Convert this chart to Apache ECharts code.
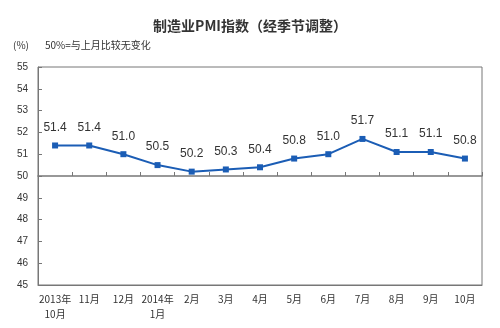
<!DOCTYPE html>
<html>
<head>
<meta charset="utf-8">
<script src="https://cdn.jsdelivr.net/npm/echarts@6/dist/echarts.min.js"></script>
<style>
  html, body { margin: 0; padding: 0; background: #fff; }
  #chart { width: 500px; height: 328px; }
</style>
</head>
<body>
<div id="chart"></div>
<script>
// Monthly manufacturing PMI, seasonally adjusted
const months = ['2013年\n10月', '11月', '12月', '2014年\n1月', '2月', '3月', '4月', '5月', '6月', '7月', '8月', '9月', '10月'];
const pmi = [51.4, 51.4, 51.0, 50.5, 50.2, 50.3, 50.4, 50.8, 51.0, 51.7, 51.1, 51.1, 50.8];
const yTicks = [45, 46, 47, 48, 49, 50, 51, 52, 53, 54, 55];

const chart = echarts.init(document.getElementById('chart'), null, { renderer: 'canvas' });
const textColor = '#333';
const lineGray = '#777';

chart.setOption({
  animation: false,
  backgroundColor: '#fff',
  title: {
    text: '制造业PMI指数（经季节调整）',
    left: 'center',
    top: 14,
    textStyle: { fontFamily: 'Noto Sans CJK SC', fontSize: 14, fontWeight: 'bold', color: '#333' }
  },
  graphic: [
    { type: 'text', left: 13, top: 40, style: { text: '(%)', font: '10px "Noto Sans CJK SC"', fill: textColor } },
    { type: 'text', left: 45, top: 40, style: { text: '50%=与上月比较无变化', font: '10px "Noto Sans CJK SC"', fill: textColor } }
  ],
  grid: {
    left: 38, right: 18, top: 67, bottom: 43,
    show: true, borderColor: lineGray, borderWidth: 1, backgroundColor: 'transparent'
  },
  xAxis: [
    {
      type: 'category',
      data: months,
      boundaryGap: true,
      position: 'bottom',
      axisLine: { show: true, lineStyle: { color: lineGray } },
      axisTick: { show: false },
      axisLabel: {
        interval: 0, margin: 7, lineHeight: 15,
        fontFamily: 'Noto Sans CJK SC', fontSize: 10, color: textColor
      }
    },
    {
      // baseline at 50 with upward ticks between months
      type: 'category',
      data: months,
      boundaryGap: true,
      position: 'bottom',
      offset: -109,
      axisLine: { show: true, lineStyle: { color: lineGray, width: 1.5 } },
      axisTick: { show: true, inside: true, length: 4, interval: 0, lineStyle: { color: lineGray } },
      axisLabel: { show: false }
    }
  ],
  yAxis: {
    type: 'value',
    min: yTicks[0],
    max: yTicks[yTicks.length - 1],
    interval: 1,
    axisLine: { show: true, lineStyle: { color: lineGray } },
    axisTick: { show: true, inside: true, length: 4, lineStyle: { color: lineGray } },
    splitLine: { show: false },
    axisLabel: { margin: 10, fontFamily: 'Liberation Sans', fontSize: 10, color: textColor }
  },
  series: [{
    type: 'line',
    data: pmi,
    xAxisIndex: 0,
    symbol: 'rect',
    symbolSize: 6,
    lineStyle: { color: '#1b5db5', width: 2 },
    itemStyle: { color: '#1b5db5' },
    label: {
      show: true, position: 'top', distance: 9,
      fontFamily: 'Liberation Sans', fontSize: 12, color: textColor,
      formatter: p => p.value.toFixed(1)
    }
  }]
});
</script>
</body>
</html>
